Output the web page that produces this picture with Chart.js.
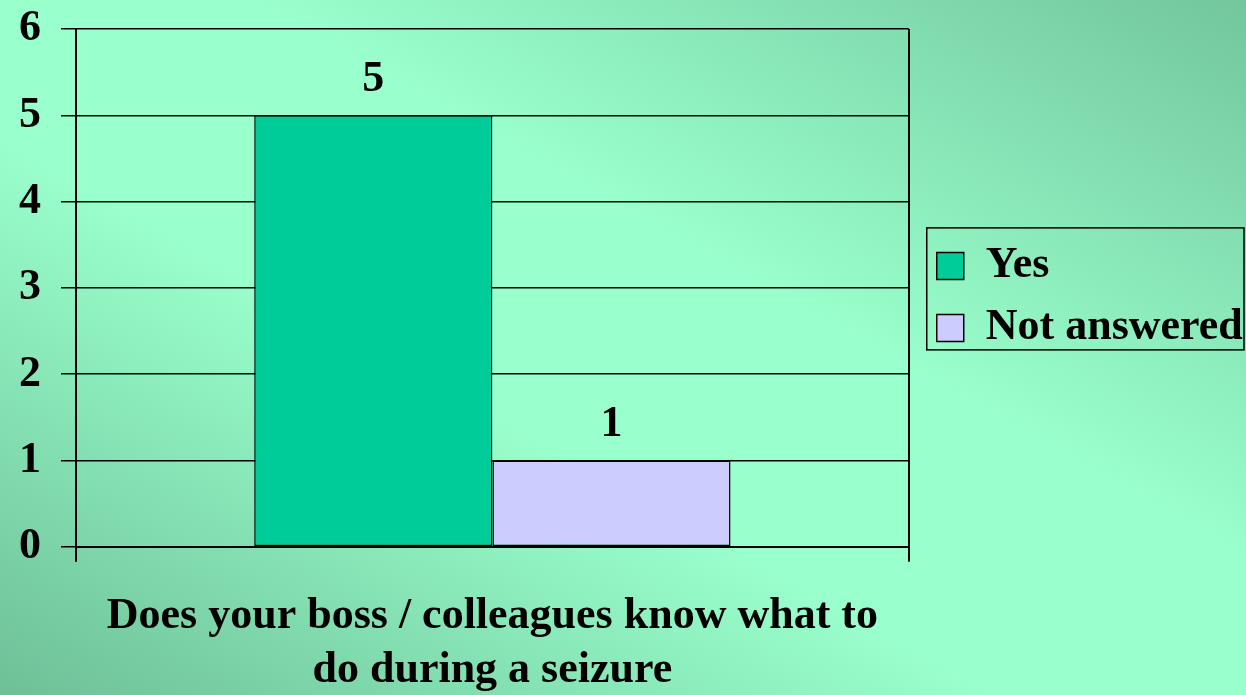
<!DOCTYPE html>
<html>
<head>
<meta charset="utf-8">
<script src="https://cdn.jsdelivr.net/npm/chart.js@4.4.0/dist/chart.umd.min.js"></script>
<style>
  html, body { margin: 0; padding: 0; }
  body {
    width: 1246px; height: 695px; overflow: hidden;
    background: linear-gradient(to top right, #6ebf97 0%, #99ffcc 40%, #99ffcc 60%, #73c69d 100%);
  }
  canvas { display: block; }
</style>
</head>
<body>
<canvas id="chart" width="1246" height="695"></canvas>
<script>
'use strict';

var categories = [['Does your boss / colleagues know what to', 'do during a seizure']];
var seriesNames = ['Yes', 'Not answered'];
var yesValues = [5];
var notAnsweredValues = [1];
var yTicks = [0, 1, 2, 3, 4, 5, 6];

var serif = "'Liberation Serif', 'Times New Roman', serif";

// value above each bar
var barLabels = {
    id: 'barLabels',
    afterDatasetsDraw: function (chart) {
        var ctx = chart.ctx;
        ctx.save();
        ctx.font = 'bold 44px ' + serif;
        ctx.fillStyle = '#000';
        ctx.textAlign = 'center';
        ctx.textBaseline = 'alphabetic';
        chart.data.datasets.forEach(function (ds, i) {
            chart.getDatasetMeta(i).data.forEach(function (bar, j) {
                ctx.fillText(ds.data[j], bar.x, bar.y - 24);
            });
        });
        ctx.restore();
    }
};

// nudge the legend like the original slide, then frame it
var legendBox = {
    id: 'legendBox',
    afterLayout: function (chart) {
        var lg = chart.legend;
        lg.left += 10;
        lg.right = chart.width;
        lg.width = lg.right - lg.left;
        lg.top += 9; lg.bottom += 9;
    },
    afterDraw: function (chart) {
        var lg = chart.legend;
        var opts = lg.options.labels;
        var ctx = chart.ctx;
        var pad = opts.padding;
        var size = opts.font.size;
        ctx.save();
        ctx.font = 'bold ' + size + 'px ' + serif;
        var tw = 0;
        seriesNames.forEach(function (s) { tw = Math.max(tw, ctx.measureText(s).width); });
        var rowH = Math.max(size, opts.boxHeight) + pad;
        var colH = rowH * seriesNames.length;
        var y0 = (lg.top + pad + lg.bottom - colH) / 2;
        var boxX = lg.left + pad;
        var left = boxX - 10;
        var right = Math.min(boxX + opts.boxWidth + size / 2 + tw + 4, chart.width - 2);
        var mid = y0 + colH / 2 - 17;
        ctx.strokeStyle = '#000';
        ctx.lineWidth = 1.5;
        ctx.strokeRect(left, mid - 61, right - left, 122);
        ctx.restore();
    }
};

function draw() {
    var ctx = document.getElementById('chart').getContext('2d');
    new Chart(ctx, {
        type: 'bar',
        data: {
            labels: categories,
            datasets: [{
                label: seriesNames[0],
                data: yesValues,
                backgroundColor: '#00cc99',
                borderColor: '#000',
                borderWidth: 1.5,
                borderSkipped: false
            }, {
                label: seriesNames[1],
                data: notAnsweredValues,
                backgroundColor: '#ccccff',
                borderColor: '#000',
                borderWidth: 1.5,
                borderSkipped: false
            }]
        },
        options: {
            responsive: false,
            animation: false,
            devicePixelRatio: 1,
            layout: { padding: { left: -1, top: 29, right: 34, bottom: -31 } },
            datasets: { bar: { barPercentage: 1, categoryPercentage: 0.572 } },
            scales: {
                x: {
                    grid: { display: true, offset: true, color: '#000', lineWidth: 2, tickLength: 15 },
                    border: { display: true, color: '#000', width: 2 },
                    ticks: {
                        color: '#000',
                        padding: 28,
                        maxRotation: 0,
                        font: { family: serif, size: 44, weight: 'bold', lineHeight: 1.23 }
                    }
                },
                y: {
                    min: 0,
                    max: 6,
                    afterBuildTicks: function (scale) {
                        scale.ticks = yTicks.map(function (v) { return { value: v }; });
                    },
                    grid: { color: '#000', lineWidth: 1.5, tickLength: 15 },
                    border: { display: true, color: '#000', width: 2 },
                    ticks: {
                        color: '#000',
                        padding: 20,
                        font: { family: serif, size: 44, weight: 'bold', lineHeight: 0.4 }
                    }
                }
            },
            plugins: {
                tooltip: { enabled: false },
                legend: {
                    position: 'right',
                    fullSize: false,
                    labels: {
                        color: '#000',
                        boxWidth: 27,
                        boxHeight: 27,
                        padding: 18,
                        font: { family: serif, size: 44, weight: 'bold' }
                    }
                }
            }
        },
        plugins: [barLabels, legendBox]
    });
}

document.fonts.load("bold 44px 'Liberation Serif'").then(draw, draw);
</script>
</body>
</html>
